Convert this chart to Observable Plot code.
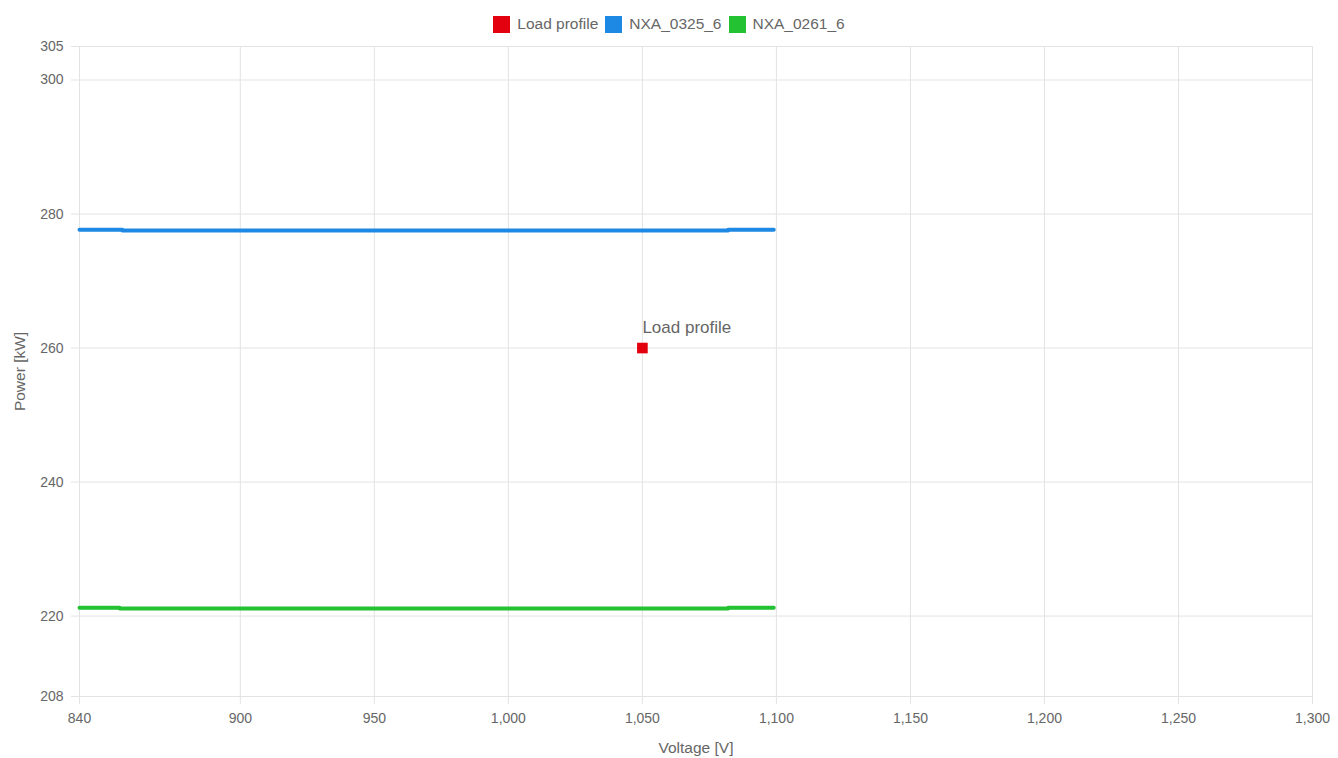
<!DOCTYPE html>
<html>
<head>
<meta charset="utf-8">
<script src="https://cdn.jsdelivr.net/npm/d3@7"></script>
<script src="https://cdn.jsdelivr.net/npm/@observablehq/plot@0.6"></script>
<style>
  body { margin: 0; background: #fff; font-family: "Liberation Sans", Arial, sans-serif; }
  #legend { height: 36px; box-sizing: border-box; padding-top: 12px; display: flex; justify-content: center; align-items: center; font-size: 15.5px; color: #666; }
  .item { display: flex; align-items: center; margin: 0 3.5px; }
  .sw { width: 17px; height: 17px; margin-right: 7px; }
</style>
</head>
<body>
<div id="legend"></div>
<div id="chart"></div>
<script>
// Series names and colours
const seriesNames = ["Load profile", "NXA_0325_6", "NXA_0261_6"];
const seriesColors = ["#e3000f", "#1e88e5", "#22c232"];

// Load profile point
const loadVoltage = [1050];
const loadPower = [260];

// NXA_0325_6 curve
const nxa0325Voltage = [840, 856, 1082, 1099];
const nxa0325Power = [277.65, 277.55, 277.65, 277.65];

// NXA_0261_6 curve
const nxa0261Voltage = [840, 855, 1082, 1099];
const nxa0261Power = [221.25, 221.15, 221.25, 221.25];

// Ticks
const xTicks = [840, 900, 950, 1000, 1050, 1100, 1150, 1200, 1250, 1300];
const yTicks = [208, 220, 240, 260, 280, 300, 305];

const line0325 = nxa0325Voltage.map((v, i) => ({v, p: nxa0325Power[i]}));
const line0261 = nxa0261Voltage.map((v, i) => ({v, p: nxa0261Power[i]}));
const loadPts = loadVoltage.map((v, i) => ({v, p: loadPower[i], label: seriesNames[0]}));

// Legend
const legend = document.getElementById("legend");
seriesNames.forEach((n, i) => {
  const it = document.createElement("div");
  it.className = "item";
  it.innerHTML = `<span class="sw" style="background:${seriesColors[i]}"></span><span>${n}</span>`;
  legend.appendChild(it);
});

const fmt = d3.format(",");
const chart = Plot.plot({
  width: 1338,
  height: 722,
  marginTop: 10,
  marginBottom: 62,
  marginLeft: 79,
  marginRight: 26,
  style: {fontFamily: "'Liberation Sans', Arial, sans-serif", fontSize: "14px", color: "#666", background: "#fff"},
  x: {domain: [840, 1300]},
  y: {domain: [208, 305]},
  marks: [
    Plot.gridX(xTicks, {stroke: "#e3e3e3", strokeOpacity: 1}),
    Plot.gridY(yTicks, {stroke: "#e3e3e3", strokeOpacity: 1}),
    Plot.axisX({ticks: xTicks, tickFormat: fmt, tickSize: 8, tickPadding: 9, stroke: "#e3e3e3", fill: "#666", label: null}),
    Plot.axisX({ticks: [], label: "Voltage [V]", labelAnchor: "center", labelArrow: "none", labelOffset: 56, fill: "#666", fontSize: 15.5}),
    Plot.axisY({ticks: yTicks, tickSize: 8, tickPadding: 8, stroke: "#e3e3e3", fill: "#666", label: null}),
    Plot.axisY({ticks: [], label: "Power [kW]", labelAnchor: "center", labelArrow: "none", labelOffset: 66, fill: "#666", fontSize: 15.5}),
    Plot.line(line0325, {x: "v", y: "p", curve: "step-after", stroke: seriesColors[1], strokeWidth: 4}),
    Plot.line(line0261, {x: "v", y: "p", curve: "step-after", stroke: seriesColors[2], strokeWidth: 4}),
    Plot.dot(loadPts, {x: "v", y: "p", symbol: "square", r: 6, fill: seriesColors[0], stroke: "none"}),
    Plot.text(loadPts, {x: "v", y: "p", text: "label", dy: -20, textAnchor: "start", fill: "#666", fontSize: 17})
  ]
});
document.getElementById("chart").appendChild(chart);
</script>
</body>
</html>
